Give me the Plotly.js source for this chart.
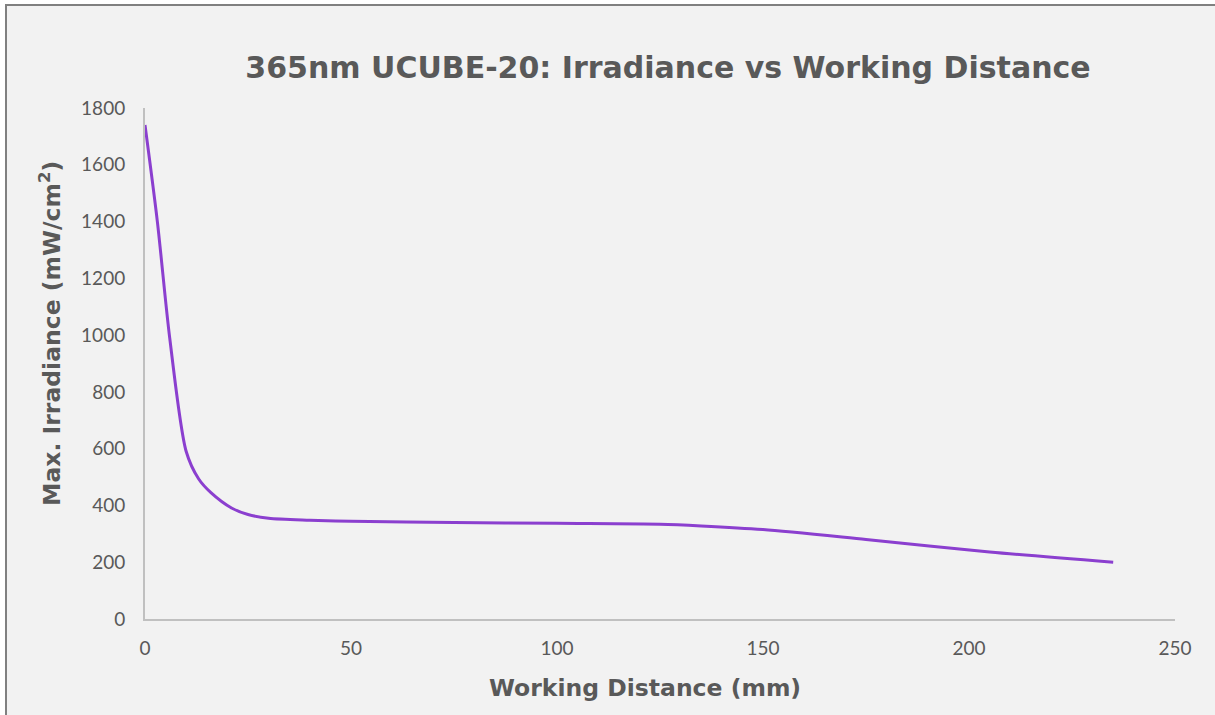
<!DOCTYPE html>
<html>
<head>
<meta charset="utf-8">
<script src="https://cdn.plot.ly/plotly-3.0.1.min.js"></script>
<style>
html,body{margin:0;padding:0;background:#ffffff;overflow:hidden;}
#frame{position:absolute;left:5px;top:4px;width:1210px;height:711px;border-top:2px solid #808080;border-left:2px solid #808080;background:#f2f2f2;}
#chart{width:1208px;height:709px;}
</style>
</head>
<body>
<div id="frame"><div id="chart"></div></div>
<script>
const distance = [0, 3, 6, 10, 13, 16, 21, 25, 30, 40, 50, 75, 100, 125, 135, 150, 175, 205, 235];
const irradiance = [1740, 1400, 990, 590, 494, 445, 391, 368, 355, 348, 344, 340, 337, 334, 328, 315, 280, 236, 200];
const xTicks = [0, 50, 100, 150, 200, 250];
const yTicks = [0, 200, 400, 600, 800, 1000, 1200, 1400, 1600, 1800];

const W = 1208, H = 709;
const trace = {
  x: distance, y: irradiance, type: 'scatter', mode: 'lines',
  line: {color: '#8b3fcf', width: 3, shape: 'spline', smoothing: 0.8},
  hoverinfo: 'x+y'
};
const grey = '#595959';
const titleFont = '"DejaVu Sans", Verdana, sans-serif';
const layout = {
  width: W, height: H,
  paper_bgcolor: '#f2f2f2', plot_bgcolor: '#f2f2f2',
  margin: {l: 138, r: 40, t: 102, b: 96},
  showlegend: false,
  font: {family: 'Lato, "Open Sans", sans-serif', color: grey},
  title: {
    text: '365nm UCUBE-20: Irradiance vs Working Distance',
    font: {family: titleFont, size: 30, color: grey, weight: 'bold'},
    xref: 'container', yref: 'container', x: 661 / W, y: 1 - 61 / H,
    xanchor: 'center', yanchor: 'middle'
  },
  xaxis: {
    range: [0, 250], tickvals: xTicks, ticktext: xTicks.map(String),
    showgrid: false, zeroline: false, showline: true, linecolor: '#c0c0c0', linewidth: 2,
    ticks: '', ticklabelstandoff: 11,
    tickfont: {family: 'Lato, sans-serif', size: 19, color: grey},
    fixedrange: true
  },
  yaxis: {
    range: [0, 1800], tickvals: yTicks, ticktext: yTicks.map(String),
    showgrid: false, zeroline: false, showline: true, linecolor: '#c0c0c0', linewidth: 2,
    ticks: '', ticklabelstandoff: 14,
    tickfont: {family: 'Lato, sans-serif', size: 19, color: grey},
    fixedrange: true
  },
  annotations: [
    {text: 'Working Distance (mm)', xref: 'paper', yref: 'paper',
     x: (645 - 145) / 1030, y: -(688 - 619) / 511, xanchor: 'center', yanchor: 'middle',
     showarrow: false, font: {family: titleFont, size: 23.5, color: grey, weight: 'bold'}},
    {text: 'Max. Irradiance (mW/cm<sup>2</sup>)', xref: 'paper', yref: 'paper',
     x: -(145 - 50) / 1030, y: (619 - 334) / 511, xanchor: 'center', yanchor: 'middle', textangle: -90,
     showarrow: false, font: {family: titleFont, size: 23.5, color: grey, weight: 'bold'}}
  ]
};
Plotly.newPlot('chart', [trace], layout, {displayModeBar: false, staticPlot: true});
</script>
</body>
</html>
